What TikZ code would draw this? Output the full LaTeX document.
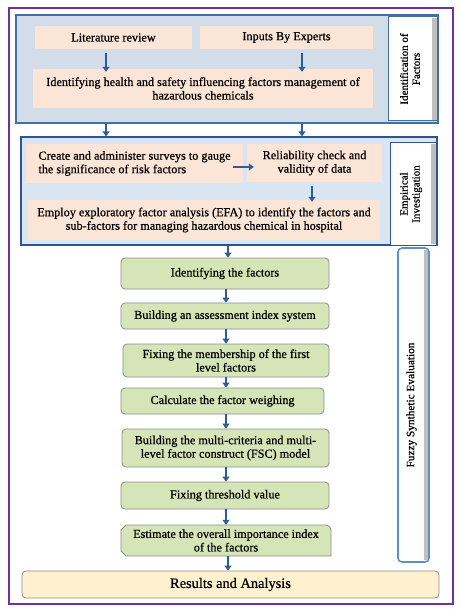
\documentclass[tikz,border=0pt]{standalone}
\usepackage{fontspec}
\setmainfont{Liberation Serif}[FakeBold=0.7]
\usetikzlibrary{arrows.meta,calc}
\definecolor{purp}{HTML}{7030A0}
\definecolor{pone}{HTML}{D3DCE9}
\definecolor{ptwo}{HTML}{DAE5F2}
\definecolor{bone}{HTML}{41719C}
\definecolor{btwo}{HTML}{2F5496}
\definecolor{peach}{HTML}{FBE5D6}
\definecolor{grn}{HTML}{D5E5B7}
\definecolor{yel}{HTML}{FFF1CF}
\definecolor{arc}{HTML}{2C5E91}
\definecolor{fz}{HTML}{5B8FD0}
\begin{document}
\begin{tikzpicture}[x=1pt,y=-1pt,
  every node/.style={inner sep=2pt,font=\fontsize{12.2}{13.5}\selectfont},
  panel/.style={draw,line width=1.2pt,inner sep=0pt},
  pbox/.style={fill=peach,inner sep=0pt,align=center},
  gbox/.style={fill=grn,draw=black!45,line width=0.8pt,rounded corners=4pt,inner sep=0pt,align=center},
  lab/.style={draw=bone,line width=1pt,fill=white,rotate=90,inner sep=0pt,align=center},
  labtext/.style={rotate=90,align=center,font=\fontsize{11}{12}\selectfont},
  arr/.style={draw=arc,line width=1.8pt,-{Triangle[width=7pt,length=5pt]}}]
\useasboundingbox (0,0) rectangle (460,612);
% outer frame
\draw[purp,line width=1.5pt] (9,8) rectangle (453,604);
% panel 1
\node[panel,draw=bone,fill=pone,minimum width=422pt,minimum height=108pt] (P1) at (227,69) {};
\node[lab,minimum width=104pt,minimum height=49pt] (L1) at (412.5,69) {};
\fill[black!25] (431.5,18) rectangle (436.5,120);
\node[labtext] (L1t) at (410,69) {Identification of\\Factors};
\node[pbox,minimum width=157pt,minimum height=23pt] (lit) at (113.5,37.5) {Literature review};
\node[pbox,minimum width=173pt,minimum height=23pt] (inp) at (286.5,37.5) {Inputs By Experts};
\node[pbox,minimum width=340pt,minimum height=39pt] (ide) at (203,88.5) {Identifying health and safety influencing factors management of\\hazardous chemicals};
\draw[arr] ([xshift=-7.5pt,yshift=-4pt]lit.south) -- ([xshift=-7.5pt,yshift=-3pt]lit.south |- ide.north);
\draw[arr] ([xshift=15.5pt,yshift=-4pt]inp.south) -- ([xshift=15.5pt,yshift=-3pt]inp.south |- ide.north);
% panel 2
\node[panel,draw=btwo,fill=ptwo,minimum width=416pt,minimum height=108pt] (P2) at (229,191) {};
\node[lab,draw=btwo,minimum width=102pt,minimum height=46pt] (L2) at (413,194) {};
\fill[black!25] (430.5,144) rectangle (435.5,244);
\node[labtext] (L2t) at (411,194) {Empirical\\Investigation};
\draw[arr] (106,0 |- P1.south) -- (106,0 |- P2.north);
\draw[arr] (302,0 |- P1.south) -- (302,0 |- P2.north);
\node[pbox,minimum width=217pt,minimum height=39pt,align=left] (cre) at (134.5,163.5) {Create and administer surveys to gauge\\the significance of risk factors};
\node[pbox,minimum width=135pt,minimum height=38pt] (rel) at (314.5,163) {Reliability check and\\validity of data};
\node[pbox,minimum width=352pt,minimum height=40pt] (efa) at (204,220) {Employ exploratory factor analysis (EFA) to identify the factors and\\sub-factors for managing hazardous chemical in hospital};
\draw[arr] ([xshift=-10pt,yshift=-3.5pt]cre.east) -- ([xshift=7pt,yshift=-4pt]rel.west);
\draw[arr] ([xshift=-2.5pt,yshift=-4pt]rel.south) -- ([xshift=-2.5pt,yshift=-2pt]rel.south |- efa.north);
% fuzzy label
\node[draw=fz,line width=1.6pt,fill=white,rounded corners=4pt,rotate=90,minimum width=314pt,minimum height=31pt,inner sep=0pt] (L3) at (413.5,405) {};
\fill[black!25] (424,250) rectangle (427.5,560);
\node[rotate=90,font=\fontsize{11.3}{12}\selectfont] (L3t) at (411.5,405) {Fuzzy Synthetic Evaluation};
% green chain
\node[gbox,minimum width=208pt,minimum height=31pt] (g1) at (225,273.5) {Identifying the factors};
\node[gbox,minimum width=208pt,minimum height=26pt] (g2) at (225,316) {Building an assessment index system};
\node[gbox,minimum width=206pt,minimum height=33pt] (g3) at (226,360.5) {Fixing the membership of the first\\level factors};
\node[gbox,minimum width=203pt,minimum height=26pt] (g4) at (222.5,401) {Calculate the factor weighing};
\node[gbox,minimum width=207pt,minimum height=38pt] (g5) at (225.5,448) {Building the multi-criteria and multi-\\level factor construct (FSC) model};
\node[gbox,minimum width=208pt,minimum height=27pt] (g6) at (225,495.5) {Fixing threshold value};
\fill[grn,draw=black!45,line width=0.8pt] (126,525) [rounded corners=5pt]-- (331,525) [sharp corners]-- (331,556) -- (126,556) -- (121,551) -- (121,530) -- cycle;
\node[inner sep=0pt,minimum width=210pt,minimum height=31pt,align=center] (g7) at (226,540.5) {Estimate the overall importance index\\of the factors};
\node[fill=yel,draw=black!45,line width=0.8pt,rounded corners=4pt,minimum width=417pt,minimum height=27pt,font=\fontsize{14.4}{15}\selectfont] (res) at (230.5,584.5) {Results and Analysis};
\draw[arr] (228,0 |- P2.south) -- (228,0 |- g1.north);
\draw[arr] ([xshift=1pt]g1.south) -- ([xshift=1pt]g1.south |- g2.north);
\draw[arr] ([xshift=1pt]g2.south) -- ([xshift=1pt]g2.south |- g3.north);
\draw[arr] ([xshift=0pt]g3.south) -- ([xshift=0pt]g3.south |- g4.north);
\draw[arr] ([xshift=3.5pt]g4.south) -- ([xshift=3.5pt]g4.south |- g5.north);
\draw[arr] ([xshift=0.5pt]g5.south) -- ([xshift=0.5pt]g5.south |- g6.north);
\draw[arr] ([xshift=1pt]g6.south) -- ([xshift=1pt]g6.south |- g7.north);
\draw[arr] ([xshift=2pt]g7.south) -- ([xshift=2pt]g7.south |- res.north);
\end{tikzpicture}
\end{document}
